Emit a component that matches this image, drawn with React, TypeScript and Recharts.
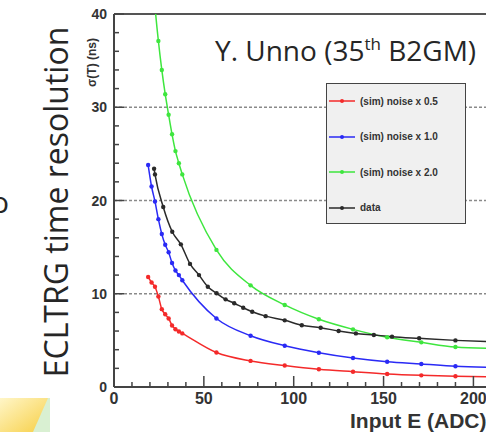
import React from 'react';
import { LineChart, Line, XAxis, YAxis, ReferenceLine, Legend } from 'recharts';

// ---- data ----
const simE = [19, 20.9, 22.8, 24.7, 26.6, 28.5, 30.4, 32.3, 34.2, 36.1, 38, 57, 76, 95, 114, 133, 152, 171, 190, 209];
const noise05 = [11.8, 11.2, 10.75, 9.7, 8.35, 7.8, 7.35, 6.6, 6.2, 5.95, 5.75, 3.7, 2.8, 2.3, 1.9, 1.64, 1.4, 1.25, 1.15, 1.08];
const noise10 = [23.8, 21.5, 19.9, 18.0, 16.4, 15.25, 14.45, 13.3, 12.5, 12.0, 11.45, 7.35, 5.5, 4.43, 3.68, 3.11, 2.71, 2.47, 2.22, 2.1];
const noise20 = [51, 45.5, 40.8, 37.1, 34.0, 31.4, 29.2, 27.1, 25.3, 24.0, 22.8, 14.7, 10.9, 8.8, 7.26, 6.18, 5.33, 4.79, 4.29, 4.15];
const dataE = [22.3, 22.8, 27.4, 32.4, 37.2, 42.3, 47.3, 52.2, 57.1, 62.1, 66.9, 71.9, 76.9, 84.4, 95, 104.5, 115, 125, 134.6, 144.6, 154.7, 169.8, 190, 210];
const dataT = [23.4, 22.8, 19.3, 16.65, 15.3, 13.2, 12.0, 10.75, 10.05, 9.4, 8.98, 8.5, 8.07, 7.6, 7.15, 6.62, 6.36, 6.0, 5.75, 5.58, 5.4, 5.22, 5.0, 4.85];

const seriesNames = ['(sim) noise x 0.5', '(sim) noise x 1.0', '(sim) noise x 2.0', 'data'];
const seriesColors = ['#f42a2a', '#2a2af5', '#3ee63e', '#2a2a2a'];

const xTicks = [0, 10, 20, 30, 40, 50, 60, 70, 80, 90, 100, 110, 120, 130, 140, 150, 160, 170, 180, 190, 200];
const xMajor = [0, 50, 100, 150, 200];
const yTicks = [0, 2, 4, 6, 8, 10, 12, 14, 16, 18, 20, 22, 24, 26, 28, 30, 32, 34, 36, 38, 40];
const yMajor = [0, 10, 20, 30, 40];
const gridValues = [10, 20, 30];

const titleMain = 'Y. Unno (35';
const titleSup = 'th';
const titleEnd = ' B2GM)';
const yAxisTitle = 'σ(T) (ns)';
const xAxisTitle = 'Input E (ADC)';
const sideLabel = 'ECLTRG time resolution';

const toPoints = (xs: number[], ys: number[]) => xs.map((x, i) => ({ x, y: ys[i] }));
const seriesData = [toPoints(simE, noise05), toPoints(simE, noise10), toPoints(simE, noise20), toPoints(dataE, dataT)];

const axisColor = '#444';
const textColor = '#333';
const tickFont = '"Liberation Sans", Arial, sans-serif';

const YTick = (props: any) => {
  const { x, y, payload } = props;
  const v = payload.value;
  const major = yMajor.includes(v);
  return (
    <g>
      <line x1={x} x2={x + (major ? 10 : 5)} y1={y} y2={y} stroke={axisColor} strokeWidth={1.5} />
      {major && (
        <text x={x - 7} y={y + 5} textAnchor="end" fontFamily={tickFont} fontWeight="bold" fontSize={14} fill={textColor}>
          {v}
        </text>
      )}
    </g>
  );
};

const XTick = (props: any) => {
  const { x, y, payload } = props;
  const v = payload.value;
  const major = xMajor.includes(v);
  return (
    <g>
      <line x1={x} x2={x} y1={y} y2={y - (major ? 11 : 5)} stroke={axisColor} strokeWidth={1.5} />
      {major && (
        <text x={x} y={y + 17} textAnchor="middle" fontFamily={tickFont} fontWeight="bold" fontSize={16} fill={textColor}>
          {v}
        </text>
      )}
    </g>
  );
};

const LegendBox = (props: any) => {
  const payload = props.payload || [];
  return (
    <div
      style={{
        width: 140,
        height: 141,
        boxSizing: 'border-box',
        background: '#f0f0f0',
        border: '1.5px solid #444',
        position: 'relative',
      }}
    >
      {payload.map((e: any, i: number) => (
        <div
          key={i}
          style={{ position: 'absolute', left: 2, top: 9 + i * 35.5, height: 16, display: 'flex', alignItems: 'center' }}
        >
          <svg width={26} height={6} style={{ display: 'block' }}>
            <line x1={0} x2={26} y1={3} y2={3} stroke={e.color} strokeWidth={1.5} />
            <circle cx={13} cy={3} r={2} fill={e.color} />
          </svg>
          <span
            style={{
              marginLeft: 5,
              fontFamily: tickFont,
              fontWeight: 'bold',
              fontSize: 10,
              color: textColor,
              whiteSpace: 'nowrap',
            }}
          >
            {e.value}
          </span>
        </div>
      ))}
    </div>
  );
};

export default function App() {
  return (
    <div style={{ position: 'absolute', left: 0, top: 0, width: 486, height: 432, background: '#fff', overflow: 'hidden' }}>
      <LineChart width={486} height={432} margin={{ top: 14, right: 0, bottom: 0, left: 0 }}>
        <XAxis
          dataKey="x"
          type="number"
          domain={[0, 207]}
          allowDataOverflow
          ticks={xTicks}
          interval={0}
          height={45}
          tickSize={0}
          tickMargin={0}
          tick={<XTick />}
          tickLine={false}
          axisLine={{ stroke: axisColor, strokeWidth: 2 }}
        />
        <YAxis
          dataKey="y"
          type="number"
          domain={[0, 40]}
          allowDataOverflow
          ticks={yTicks}
          interval={0}
          width={114}
          tickSize={0}
          tickMargin={0}
          tick={<YTick />}
          tickLine={false}
          axisLine={{ stroke: axisColor, strokeWidth: 2 }}
        />
        {gridValues.map((g) => (
          <ReferenceLine key={g} y={g} stroke="#8a8a8a" strokeWidth={1.6} strokeDasharray="3 2" />
        ))}
        <ReferenceLine y={40} stroke="#555" strokeWidth={2} />
        {seriesData.map((d, i) => (
          <Line
            key={seriesNames[i]}
            data={d}
            dataKey="y"
            name={seriesNames[i]}
            type="monotone"
            stroke={seriesColors[i]}
            strokeWidth={1.5}
            dot={{ r: 2.2, fill: seriesColors[i], stroke: 'none' }}
            isAnimationActive={false}
          />
        ))}
        <Legend
          layout="vertical"
          align="center"
          verticalAlign="middle"
          content={<LegendBox />}
          wrapperStyle={{ left: 326, top: 83, width: 140, height: 141 }}
        />
      </LineChart>
      <svg width={486} height={432} style={{ position: 'absolute', left: 0, top: 0, pointerEvents: 'none' }}>
        <defs>
          <linearGradient id="yel" x1="0" y1="0" x2="1" y2="1">
            <stop offset="0" stopColor="#fff6c8" />
            <stop offset="1" stopColor="#f7cf45" />
          </linearGradient>
        </defs>
        <polygon points="0,398 50,398 50,432 0,432" fill="#d9f0d2" />
        <polygon points="0,398 48,398 33,432 0,432" fill="url(#yel)" />
        <text x={-9} y={213} fontFamily='"Open Sans", sans-serif' fontSize={30} fill="#262626">o</text>
        <text x={215} y={61} fontFamily='"Open Sans", sans-serif' fontSize={28} fill="#262626">
          {titleMain}
          <tspan fontSize={17} dy={-11}>{titleSup}</tspan>
          <tspan dy={11}>{titleEnd}</tspan>
        </text>
        <text
          transform="translate(68,202) rotate(-90)"
          textAnchor="middle"
          fontFamily='"Open Sans", sans-serif'
          fontSize={32}
          fill="#262626"
        >
          {sideLabel}
        </text>
        <text
          transform="translate(96,38) rotate(-90)"
          textAnchor="end"
          fontFamily={tickFont}
          fontWeight="bold"
          fontSize={12}
          fill={textColor}
        >
          {yAxisTitle}
        </text>
        <text x={350} y={428} fontFamily={tickFont} fontWeight="bold" fontSize={21} fill={textColor}>
          {xAxisTitle}
        </text>
      </svg>
    </div>
  );
}
